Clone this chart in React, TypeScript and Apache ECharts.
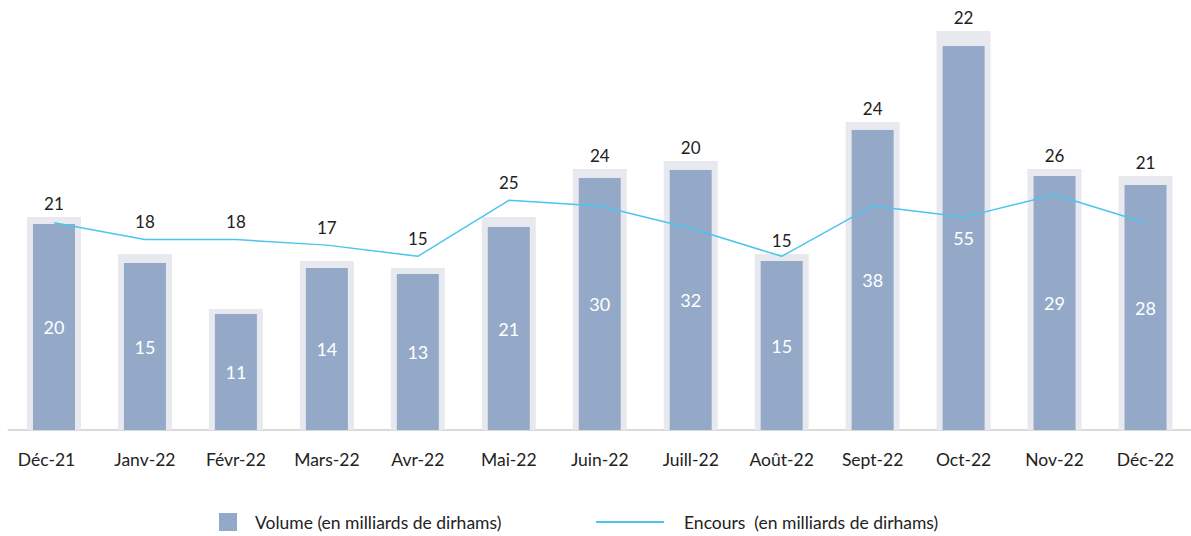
import React, { useEffect, useRef } from "react";
import * as echarts from "echarts";

// Categories
const months = [
  "Déc-21", "Janv-22", "Févr-22", "Mars-22", "Avr-22", "Mai-22", "Juin-22",
  "Juill-22", "Août-22", "Sept-22", "Oct-22", "Nov-22", "Déc-22",
];

// Printed values
const volume = [20, 15, 11, 14, 13, 21, 30, 32, 15, 38, 55, 29, 28];
const encours = [21, 18, 18, 17, 15, 25, 24, 20, 15, 24, 22, 26, 21];

// Bar lengths as drawn in the picture (axis units, 0-100)
const volumeBar = [51.5, 41.75, 29, 40.5, 39, 50.75, 63, 65, 42.25, 75, 96, 63.5, 61.25];
const frameBar = [53.25, 44, 30.25, 42.25, 40.5, 53.25, 65.25, 67.25, 44, 77, 99.75, 65.25, 63.5];

const VOL_NAME = "Volume (en milliards de dirhams)";
const ENC_NAME = "Encours  (en milliards de dirhams)";

const Y1_MAX = 100;
const Y2_MIN = -16;
const Y2_MAX = 55.4;

const LINE_COLOR = "#4cc4ef";

export default function App() {
  const ref = useRef<HTMLDivElement>(null);

  useEffect(() => {
    if (!ref.current) return;
    const chart = echarts.init(ref.current, null, { renderer: "svg" });
    const font = "Lato, 'Noto Sans', sans-serif";

    // decide whether the encours label sits on the line or on the frame bar
    const lineInY1 = encours.map((v) => ((v - Y2_MIN) / (Y2_MAX - Y2_MIN)) * Y1_MAX);
    const onBar = frameBar.map((f, i) => f >= lineInY1[i]);

    const topLabel = {
      color: "#222",
      fontSize: 17,
      fontFamily: font,
      formatter: (p: any) => String(encours[p.dataIndex]),
    };

    chart.setOption({
      animation: false,
      backgroundColor: "#fff",
      grid: { left: 8.5, right: -1.5, top: 30, bottom: 106, containLabel: false },
      xAxis: [
        {
          type: "category",
          data: months,
          axisLine: { show: true, lineStyle: { color: "#d9d9d9", width: 2 } },
          axisTick: { show: false },
          axisLabel: {
            color: "#222",
            fontSize: 17.5,
            fontFamily: font,
            margin: 20,
            interval: 0,
            formatter: (v: string, i: number) => (i === 0 ? `{first|${v}}` : v),
            rich: {
              first: { color: "#222", fontSize: 17.5, fontFamily: font, padding: [0, 15, 0, 0] },
            },
          },
        },
        {
          type: "category",
          data: months,
          show: false,
        },
      ],
      yAxis: [
        { type: "value", min: 0, max: Y1_MAX, show: false },
        { type: "value", min: Y2_MIN, max: Y2_MAX, show: false },
      ],
      legend: [
        {
          left: 219,
          top: 513,
          padding: 0,
          itemWidth: 18,
          itemHeight: 18,
          icon: "rect",
          data: [VOL_NAME],
          selectedMode: false,
          textStyle: { color: "#222", fontSize: 17.5, fontFamily: font, padding: [0, 0, 0, 13] },
        },
        {
          left: 596,
          top: 513,
          padding: 0,
          itemWidth: 68,
          itemHeight: 2,
          icon: "rect",
          data: [{ name: ENC_NAME, itemStyle: { color: LINE_COLOR, opacity: 1 } }],
          itemStyle: { color: LINE_COLOR, opacity: 1 },
          selectedMode: false,
          textStyle: { color: "#222", fontSize: 17.5, fontFamily: font, padding: [0, 0, 0, 15] },
        },
      ],
      series: [
        {
          name: "frame",
          type: "bar",
          xAxisIndex: 1,
          yAxisIndex: 0,
          barWidth: 54,
          z: 1,
          itemStyle: { color: "#e8e9ee" },
          data: frameBar.map((v, i) => ({
            value: v,
            label: { show: onBar[i], position: "top", distance: 5, ...topLabel },
          })),
        },
        {
          name: VOL_NAME,
          type: "bar",
          xAxisIndex: 0,
          yAxisIndex: 0,
          barWidth: 42,
          z: 2,
          itemStyle: { color: "#94a9c7" },
          label: {
            show: true,
            position: "inside",
            color: "#fff",
            fontSize: 18,
            fontFamily: font,
            formatter: (p: any) => String(volume[p.dataIndex]),
          },
          data: volumeBar,
        },
        {
          name: ENC_NAME,
          type: "line",
          xAxisIndex: 0,
          yAxisIndex: 1,
          z: 3,
          symbol: "circle",
          symbolSize: 1,
          showSymbol: true,
          showAllSymbol: true,
          itemStyle: { color: "rgba(0,0,0,0)" },
          lineStyle: { color: LINE_COLOR, width: 1.5 },
          data: encours.map((v, i) => ({
            value: v,
            label: { show: !onBar[i], position: "top", distance: 9, ...topLabel },
          })),
        },
      ],
    });

    return () => chart.dispose();
  }, []);

  return (
    <div
      ref={ref}
      style={{ position: "absolute", left: 0, top: 0, width: 1191, height: 536 }}
    />
  );
}
